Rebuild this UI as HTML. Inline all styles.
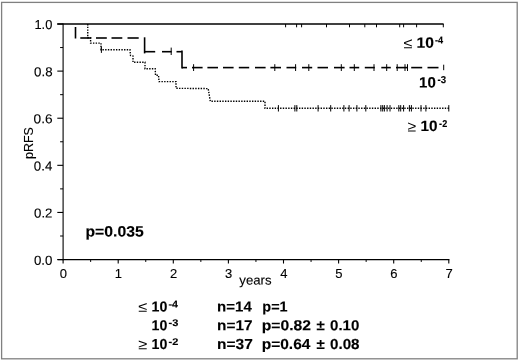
<!DOCTYPE html>
<html><head><meta charset="utf-8"><title>pRFS</title>
<style>html,body{margin:0;padding:0;background:#fff}svg{display:block}#c{filter:blur(0.35px)}</style>
</head><body>
<svg width="520" height="361" viewBox="0 0 520 361">
<rect x="0" y="0" width="520" height="361" fill="#ffffff"/>
<g id="c">
<rect x="1.6" y="2.4" width="515.6" height="356.4" fill="#fff" stroke="#808080" stroke-width="1.3"/>
<g stroke="#000" fill="none" stroke-linecap="butt">
<line x1="63.10" y1="23.40" x2="63.10" y2="260.15" stroke-width="1.1"/>
<line x1="57.60" y1="259.55" x2="449.40" y2="259.55" stroke-width="1.2"/>
<line x1="57.30" y1="259.55" x2="63.10" y2="259.55" stroke-width="1.1"/>
<line x1="60.10" y1="236.00" x2="63.10" y2="236.00" stroke-width="1.0"/>
<line x1="57.30" y1="212.44" x2="63.10" y2="212.44" stroke-width="1.1"/>
<line x1="60.10" y1="188.88" x2="63.10" y2="188.88" stroke-width="1.0"/>
<line x1="57.30" y1="165.33" x2="63.10" y2="165.33" stroke-width="1.1"/>
<line x1="60.10" y1="141.78" x2="63.10" y2="141.78" stroke-width="1.0"/>
<line x1="57.30" y1="118.22" x2="63.10" y2="118.22" stroke-width="1.1"/>
<line x1="60.10" y1="94.67" x2="63.10" y2="94.67" stroke-width="1.0"/>
<line x1="57.30" y1="71.11" x2="63.10" y2="71.11" stroke-width="1.1"/>
<line x1="60.10" y1="47.55" x2="63.10" y2="47.55" stroke-width="1.0"/>
<line x1="57.30" y1="24.00" x2="63.10" y2="24.00" stroke-width="1.1"/>
<line x1="63.10" y1="259.55" x2="63.10" y2="263.55" stroke-width="1.1"/>
<line x1="90.65" y1="259.55" x2="90.65" y2="261.95" stroke-width="1.0"/>
<line x1="118.20" y1="259.55" x2="118.20" y2="263.55" stroke-width="1.1"/>
<line x1="145.75" y1="259.55" x2="145.75" y2="261.95" stroke-width="1.0"/>
<line x1="173.30" y1="259.55" x2="173.30" y2="263.55" stroke-width="1.1"/>
<line x1="200.85" y1="259.55" x2="200.85" y2="261.95" stroke-width="1.0"/>
<line x1="228.40" y1="259.55" x2="228.40" y2="263.55" stroke-width="1.1"/>
<line x1="255.95" y1="259.55" x2="255.95" y2="261.95" stroke-width="1.0"/>
<line x1="283.50" y1="259.55" x2="283.50" y2="263.55" stroke-width="1.1"/>
<line x1="311.05" y1="259.55" x2="311.05" y2="261.95" stroke-width="1.0"/>
<line x1="338.60" y1="259.55" x2="338.60" y2="263.55" stroke-width="1.1"/>
<line x1="366.15" y1="259.55" x2="366.15" y2="261.95" stroke-width="1.0"/>
<line x1="393.70" y1="259.55" x2="393.70" y2="263.55" stroke-width="1.1"/>
<line x1="421.25" y1="259.55" x2="421.25" y2="261.95" stroke-width="1.0"/>
<line x1="448.80" y1="259.55" x2="448.80" y2="263.55" stroke-width="1.1"/>
<line x1="57.30" y1="24.00" x2="443.60" y2="24.00" stroke-width="1.5"/>
<line x1="285.60" y1="24.00" x2="285.60" y2="27.30" stroke-width="1.0"/>
<line x1="296.60" y1="24.00" x2="296.60" y2="27.30" stroke-width="1.0"/>
<line x1="301.60" y1="24.00" x2="301.60" y2="27.30" stroke-width="1.0"/>
<line x1="326.50" y1="24.00" x2="326.50" y2="27.30" stroke-width="1.0"/>
<line x1="349.50" y1="24.00" x2="349.50" y2="27.30" stroke-width="1.0"/>
<line x1="364.80" y1="24.00" x2="364.80" y2="27.30" stroke-width="1.0"/>
<line x1="376.50" y1="24.00" x2="376.50" y2="27.30" stroke-width="1.0"/>
<line x1="399.70" y1="24.00" x2="399.70" y2="27.30" stroke-width="1.0"/>
<line x1="403.60" y1="24.00" x2="403.60" y2="27.30" stroke-width="1.0"/>
<line x1="416.60" y1="24.00" x2="416.60" y2="27.30" stroke-width="1.0"/>
<line x1="443.30" y1="24.00" x2="443.30" y2="27.30" stroke-width="1.0"/>
<line x1="75.50" y1="27.00" x2="75.50" y2="38.50" stroke-width="1.6"/>
<line x1="80.30" y1="38.00" x2="91.20" y2="38.00" stroke-width="1.6"/>
<line x1="96.00" y1="38.00" x2="106.80" y2="38.00" stroke-width="1.6"/>
<line x1="111.50" y1="38.00" x2="122.30" y2="38.00" stroke-width="1.6"/>
<line x1="127.50" y1="38.00" x2="138.70" y2="38.00" stroke-width="1.6"/>
<line x1="144.60" y1="37.30" x2="144.60" y2="53.40" stroke-width="1.6"/>
<line x1="144.60" y1="51.70" x2="155.20" y2="51.70" stroke-width="1.6"/>
<line x1="162.00" y1="51.70" x2="171.70" y2="51.70" stroke-width="1.6"/>
<line x1="176.50" y1="51.70" x2="182.00" y2="51.70" stroke-width="1.6"/>
<line x1="171.20" y1="47.60" x2="171.20" y2="55.00" stroke-width="1.0"/>
<line x1="182.00" y1="50.60" x2="182.00" y2="68.40" stroke-width="1.6"/>
<line x1="182.00" y1="67.60" x2="187.00" y2="67.60" stroke-width="1.6"/>
<line x1="192.00" y1="67.60" x2="202.60" y2="67.60" stroke-width="1.6"/>
<line x1="207.40" y1="67.60" x2="218.00" y2="67.60" stroke-width="1.6"/>
<line x1="223.00" y1="67.60" x2="233.60" y2="67.60" stroke-width="1.6"/>
<line x1="238.80" y1="67.60" x2="249.20" y2="67.60" stroke-width="1.6"/>
<line x1="255.00" y1="67.60" x2="265.60" y2="67.60" stroke-width="1.6"/>
<line x1="270.40" y1="67.60" x2="281.00" y2="67.60" stroke-width="1.6"/>
<line x1="286.50" y1="67.60" x2="296.20" y2="67.60" stroke-width="1.6"/>
<line x1="302.00" y1="67.60" x2="312.20" y2="67.60" stroke-width="1.6"/>
<line x1="317.50" y1="67.60" x2="328.00" y2="67.60" stroke-width="1.6"/>
<line x1="334.00" y1="67.60" x2="344.60" y2="67.60" stroke-width="1.6"/>
<line x1="349.50" y1="67.60" x2="359.20" y2="67.60" stroke-width="1.6"/>
<line x1="364.80" y1="67.60" x2="374.80" y2="67.60" stroke-width="1.6"/>
<line x1="381.30" y1="67.60" x2="390.80" y2="67.60" stroke-width="1.6"/>
<line x1="396.00" y1="67.60" x2="408.00" y2="67.60" stroke-width="1.6"/>
<line x1="411.20" y1="67.60" x2="422.20" y2="67.60" stroke-width="1.6"/>
<line x1="427.50" y1="67.60" x2="438.50" y2="67.60" stroke-width="1.6"/>
<line x1="193.60" y1="64.20" x2="193.60" y2="71.00" stroke-width="1.0"/>
<line x1="274.80" y1="64.20" x2="274.80" y2="71.00" stroke-width="1.0"/>
<line x1="295.60" y1="64.20" x2="295.60" y2="71.00" stroke-width="1.0"/>
<line x1="308.80" y1="64.20" x2="308.80" y2="71.00" stroke-width="1.0"/>
<line x1="341.30" y1="64.20" x2="341.30" y2="71.00" stroke-width="1.0"/>
<line x1="354.30" y1="64.20" x2="354.30" y2="71.00" stroke-width="1.0"/>
<line x1="374.00" y1="64.20" x2="374.00" y2="71.00" stroke-width="1.0"/>
<line x1="386.70" y1="64.20" x2="386.70" y2="71.00" stroke-width="1.0"/>
<line x1="397.20" y1="64.20" x2="397.20" y2="71.00" stroke-width="1.0"/>
<line x1="405.00" y1="64.20" x2="405.00" y2="71.00" stroke-width="1.0"/>
<line x1="407.50" y1="64.20" x2="407.50" y2="71.00" stroke-width="1.0"/>
<line x1="443.70" y1="64.70" x2="443.70" y2="70.20" stroke-width="1.0"/>
<path d="M87.75,24.00 L87.75,37.80 L90.60,37.80 L90.60,43.10 L101.00,43.10 L101.00,49.80 L130.00,49.80 L130.50,55.50 L133.00,56.00 L133.00,62.30 L145.00,62.30 L145.00,68.80 L155.20,68.80 L155.50,75.30 L158.50,75.30 L159.00,81.60 L176.00,81.60 L176.00,88.30 L208.20,88.60 L210.30,101.30 L265.00,101.30 L265.00,108.30 L449.00,108.30" stroke-width="1.4" stroke-dasharray="1.4 1.3"/>
<line x1="101.40" y1="46.60" x2="101.40" y2="52.90" stroke-width="1.0"/>
<line x1="278.40" y1="105.10" x2="278.40" y2="111.50" stroke-width="1.0"/>
<line x1="294.90" y1="105.10" x2="294.90" y2="111.50" stroke-width="1.0"/>
<line x1="296.80" y1="105.10" x2="296.80" y2="111.50" stroke-width="1.0"/>
<line x1="318.10" y1="105.10" x2="318.10" y2="111.50" stroke-width="1.0"/>
<line x1="330.70" y1="105.10" x2="330.70" y2="111.50" stroke-width="1.0"/>
<line x1="343.90" y1="105.10" x2="343.90" y2="111.50" stroke-width="1.0"/>
<line x1="349.10" y1="105.10" x2="349.10" y2="111.50" stroke-width="1.0"/>
<line x1="356.90" y1="105.10" x2="356.90" y2="111.50" stroke-width="1.0"/>
<line x1="365.80" y1="105.10" x2="365.80" y2="111.50" stroke-width="1.0"/>
<line x1="380.90" y1="105.10" x2="380.90" y2="111.50" stroke-width="1.0"/>
<line x1="382.70" y1="105.10" x2="382.70" y2="111.50" stroke-width="1.0"/>
<line x1="384.40" y1="105.10" x2="384.40" y2="111.50" stroke-width="1.0"/>
<line x1="387.10" y1="105.10" x2="387.10" y2="111.50" stroke-width="1.0"/>
<line x1="390.00" y1="105.10" x2="390.00" y2="111.50" stroke-width="1.0"/>
<line x1="398.80" y1="105.10" x2="398.80" y2="111.50" stroke-width="1.0"/>
<line x1="400.70" y1="105.10" x2="400.70" y2="111.50" stroke-width="1.0"/>
<line x1="403.60" y1="105.10" x2="403.60" y2="111.50" stroke-width="1.0"/>
<line x1="409.40" y1="105.10" x2="409.40" y2="111.50" stroke-width="1.0"/>
<line x1="411.40" y1="105.10" x2="411.40" y2="111.50" stroke-width="1.0"/>
<line x1="421.00" y1="105.10" x2="421.00" y2="111.50" stroke-width="1.0"/>
<line x1="425.90" y1="105.10" x2="425.90" y2="111.50" stroke-width="1.0"/>
<line x1="448.80" y1="105.10" x2="448.80" y2="111.50" stroke-width="1.0"/>
</g>
<g fill="#000" stroke="#000" stroke-width="0.12" font-family="'Liberation Sans', Arial, Helvetica, sans-serif">
<text transform="translate(33.94,264.65) rotate(0.03) scale(1.024,1)" font-size="13">0.0</text>
<text transform="translate(34.04,217.54) rotate(0.03) scale(1.018,1)" font-size="13">0.2</text>
<text transform="translate(33.84,170.43) rotate(0.03) scale(1.020,1)" font-size="13">0.4</text>
<text transform="translate(33.62,123.32) rotate(0.03) scale(1.053,1)" font-size="13">0.6</text>
<text transform="translate(34.04,76.21) rotate(0.03) scale(1.024,1)" font-size="13">0.8</text>
<text transform="translate(34.46,29.10) rotate(0.03) scale(0.988,1)" font-size="13">1.0</text>
<text x="59.68" y="277.70" font-size="13">0</text>
<text x="114.65" y="277.70" font-size="13">1</text>
<text x="169.88" y="277.70" font-size="13">2</text>
<text x="224.97" y="277.70" font-size="13">3</text>
<text x="280.20" y="277.70" font-size="13">4</text>
<text x="335.18" y="277.70" font-size="13">5</text>
<text x="390.15" y="277.70" font-size="13">6</text>
<text x="445.38" y="277.70" font-size="13">7</text>
<text transform="translate(239.35,284.60) rotate(0.03) scale(1.014,1)" font-size="13">years</text>
<text transform="translate(403.61,48.20) rotate(0.03) scale(1.090,1)" font-size="15" stroke="none">≤</text>
<text transform="translate(416.61,47.80) rotate(0.03) scale(1.040,1)" font-size="15" font-weight="bold">10</text>
<text transform="translate(435.02,43.40) rotate(0.03) scale(0.918,1)" font-size="10" font-weight="bold">-4</text>
<text transform="translate(419.05,87.50) rotate(0.03) scale(1.000,1)" font-size="15" font-weight="bold">10</text>
<text transform="translate(437.41,83.00) rotate(0.03) scale(0.970,1)" font-size="10" font-weight="bold">-3</text>
<text transform="translate(407.43,131.40) rotate(0.03) scale(1.048,1)" font-size="15" stroke="none">≥</text>
<text transform="translate(420.43,131.00) rotate(0.03) scale(1.020,1)" font-size="15" font-weight="bold">10</text>
<text transform="translate(439.12,126.90) rotate(0.03) scale(0.909,1)" font-size="10" font-weight="bold">-2</text>
<text transform="translate(85.50,236.50) rotate(0.03) scale(1.050,1)" font-size="15" font-weight="bold">p=0.035</text>
<text transform="translate(138.29,311.80) rotate(0.03) scale(1.129,1)" font-size="14.5" stroke="none">≤</text>
<text transform="translate(151.57,311.50) rotate(0.03) scale(0.979,1)" font-size="14.5" font-weight="bold">10</text>
<text transform="translate(168.47,307.40) rotate(0.03) scale(1.103,1)" font-size="9.7" font-weight="bold">-4</text>
<text transform="translate(151.57,330.20) rotate(0.03) scale(0.979,1)" font-size="14.5" font-weight="bold">10</text>
<text transform="translate(168.47,326.10) rotate(0.03) scale(1.138,1)" font-size="9.7" font-weight="bold">-3</text>
<text transform="translate(138.29,349.30) rotate(0.03) scale(1.129,1)" font-size="14.5" stroke="none">≥</text>
<text transform="translate(151.57,349.00) rotate(0.03) scale(0.979,1)" font-size="14.5" font-weight="bold">10</text>
<text transform="translate(168.47,344.90) rotate(0.03) scale(1.138,1)" font-size="9.7" font-weight="bold">-2</text>
<text transform="translate(217.11,311.50) rotate(0.03) scale(1.037,1)" font-size="14.5" font-weight="bold">n=14</text>
<text transform="translate(217.09,330.20) rotate(0.03) scale(1.061,1)" font-size="14.5" font-weight="bold">n=17</text>
<text transform="translate(217.08,349.00) rotate(0.03) scale(1.068,1)" font-size="14.5" font-weight="bold">n=37</text>
<text transform="translate(262.35,311.50) rotate(0.03) scale(0.996,1)" font-size="14.5" font-weight="bold">p=1</text>
<text transform="translate(261.67,330.20) rotate(0.03) scale(1.084,1)" font-size="14.5" font-weight="bold">p=0.82</text>
<text transform="translate(316.39,330.20) rotate(0.03) scale(1.040,1)" font-size="14.5" font-weight="bold">±</text>
<text transform="translate(330.03,330.20) rotate(0.03) scale(1.039,1)" font-size="14.5" font-weight="bold">0.10</text>
<text transform="translate(261.68,349.00) rotate(0.03) scale(1.072,1)" font-size="14.5" font-weight="bold">p=0.64</text>
<text transform="translate(316.39,349.00) rotate(0.03) scale(1.040,1)" font-size="14.5" font-weight="bold">±</text>
<text transform="translate(330.03,349.00) rotate(0.03) scale(1.046,1)" font-size="14.5" font-weight="bold">0.08</text>
<text transform="translate(32.9,159.02) rotate(-90) scale(0.959,1)" font-size="13">pRFS</text>
</g>
</g>
</svg>
</body></html>
